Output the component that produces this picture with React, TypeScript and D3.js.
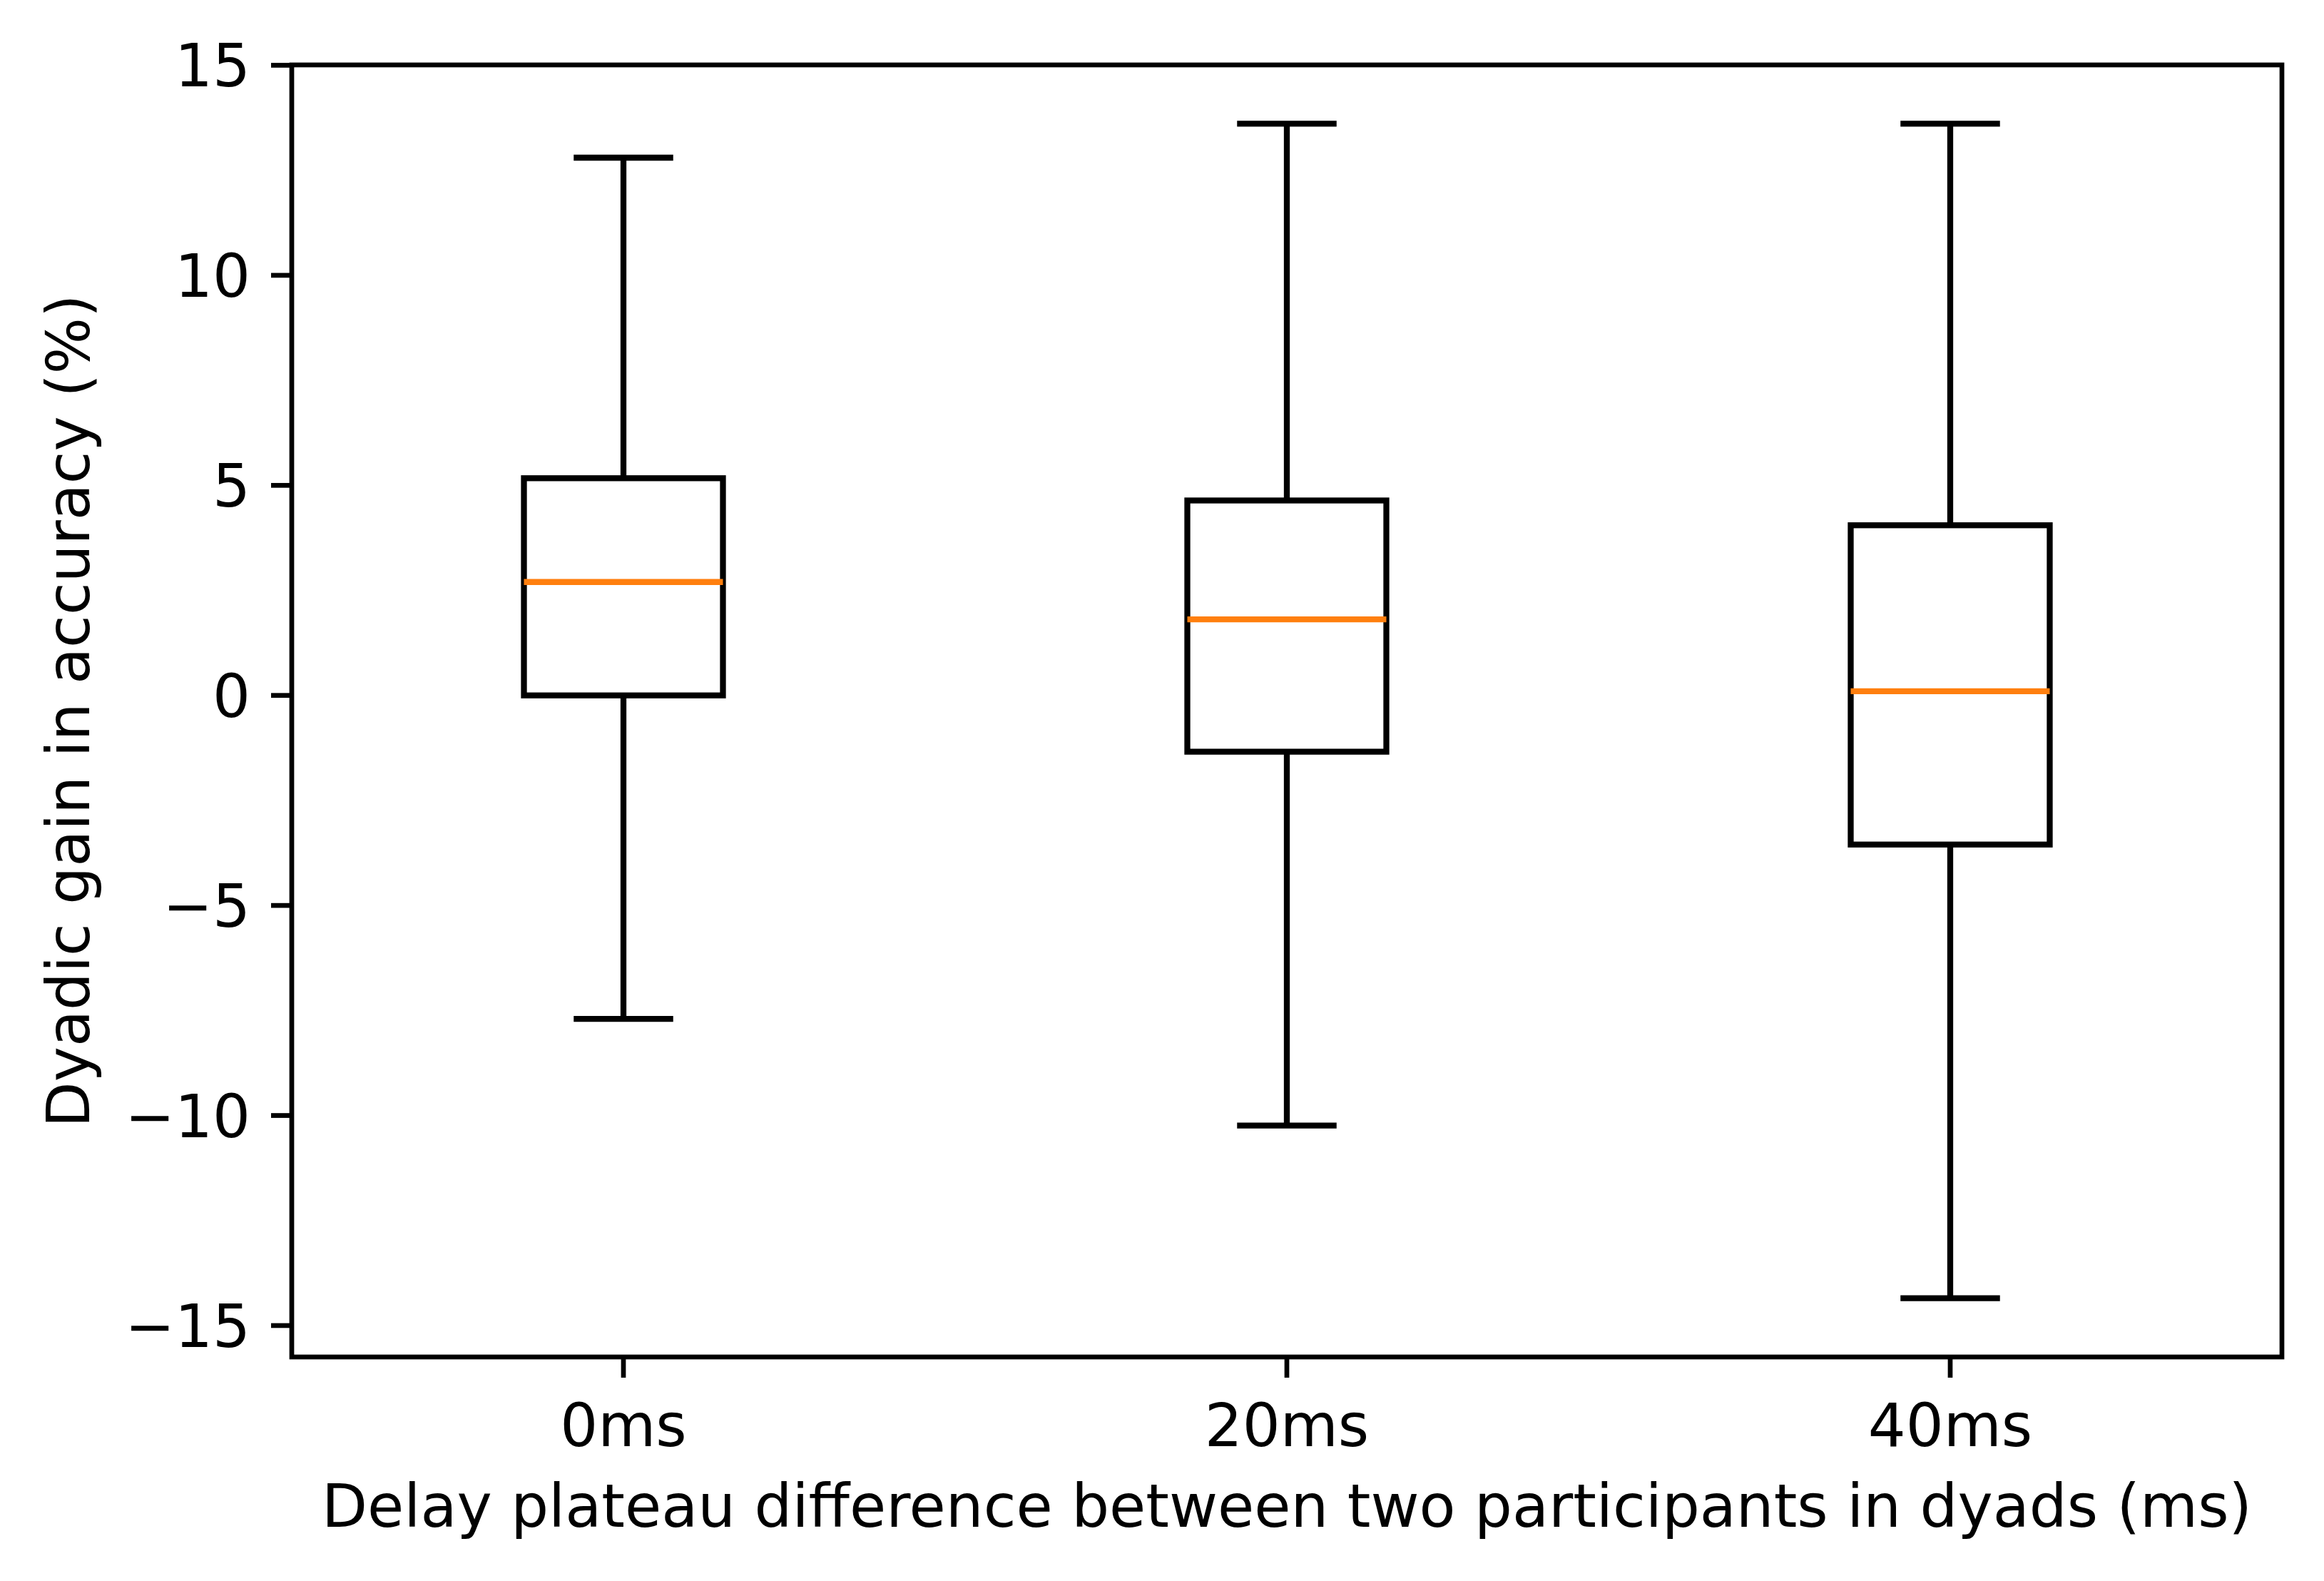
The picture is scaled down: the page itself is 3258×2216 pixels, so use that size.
import * as d3 from 'd3'

const categories = ['0ms', '20ms', '40ms']
const whiskerHigh = [12.8, 13.61, 13.61]
const q3 = [5.17, 4.64, 4.05]
const median = [2.7, 1.81, 0.1]
const q1 = [0.0, -1.34, -3.55]
const whiskerLow = [-7.7, -10.24, -14.35]
const yTicks = [-15, -10, -5, 0, 5, 10, 15]

const width = 3258
const height = 2216
const margin = { top: 91, right: 59, bottom: 314, left: 409 }
const font = 'DejaVu Sans, sans-serif'

export default function App() {
  const lo = d3.min(whiskerLow) ?? 0
  const hi = d3.max(whiskerHigh) ?? 0
  const pad = (hi - lo) * 0.05
  const x = d3
    .scaleLinear()
    .domain([0.5, categories.length + 0.5])
    .range([margin.left, width - margin.right])
  const y = d3
    .scaleLinear()
    .domain([lo - pad, hi + pad])
    .range([height - margin.bottom, margin.top])
  const boxW = x(1.3) - x(1)
  const capW = boxW / 2
  const bottom = height - margin.bottom
  const tickLen = 29
  const fmt = (v: number) => (v < 0 ? `\u2212${Math.abs(v)}` : `${v}`)

  return (
    <svg
      width={width}
      height={height}
      viewBox={`0 0 ${width} ${height}`}
      style={{ position: 'absolute', left: 0, top: 0, background: '#fff' }}
      fontFamily={font}
    >
      <rect width={width} height={height} fill="#fff" />

      {categories.map((cat, i) => {
        const cx = x(i + 1)
        return (
          <g key={cat} stroke="#000" strokeWidth={8.3} fill="none">
            <line x1={cx} x2={cx} y1={y(q3[i])} y2={y(whiskerHigh[i])} />
            <line x1={cx} x2={cx} y1={y(q1[i])} y2={y(whiskerLow[i])} />
            <line x1={cx - capW / 2} x2={cx + capW / 2} y1={y(whiskerHigh[i])} y2={y(whiskerHigh[i])} />
            <line x1={cx - capW / 2} x2={cx + capW / 2} y1={y(whiskerLow[i])} y2={y(whiskerLow[i])} />
            <rect x={cx - boxW / 2} y={y(q3[i])} width={boxW} height={y(q1[i]) - y(q3[i])} />
            <line
              x1={cx - boxW / 2}
              x2={cx + boxW / 2}
              y1={y(median[i])}
              y2={y(median[i])}
              stroke="#ff7f0e"
            />
          </g>
        )
      })}

      <rect
        x={margin.left}
        y={margin.top}
        width={width - margin.left - margin.right}
        height={bottom - margin.top}
        fill="none"
        stroke="#000"
        strokeWidth={6.7}
      />

      {yTicks.map((t) => (
        <g key={t} transform={`translate(0,${y(t)})`}>
          <line x1={margin.left - tickLen} x2={margin.left} stroke="#000" strokeWidth={6.7} />
          <text x={margin.left - tickLen - 29} y={30} textAnchor="end" fontSize={83.3} fill="#000">
            {fmt(t)}
          </text>
        </g>
      ))}

      {categories.map((cat, i) => (
        <g key={cat} transform={`translate(${x(i + 1)},0)`}>
          <line y1={bottom} y2={bottom + tickLen} stroke="#000" strokeWidth={6.7} />
          <text y={2027} textAnchor="middle" fontSize={83.3} fill="#000">
            {cat}
          </text>
        </g>
      ))}

      <text
        x={(margin.left + width - margin.right) / 2}
        y={2140}
        textAnchor="middle"
        fontSize={83.3}
        fill="#000"
      >
        Delay plateau difference between two participants in dyads (ms)
      </text>
      <text
        transform={`translate(125,${(margin.top + bottom) / 2}) rotate(-90)`}
        textAnchor="middle"
        fontSize={83.3}
        fill="#000"
      >
        Dyadic gain in accuracy (%)
      </text>
    </svg>
  )
}
